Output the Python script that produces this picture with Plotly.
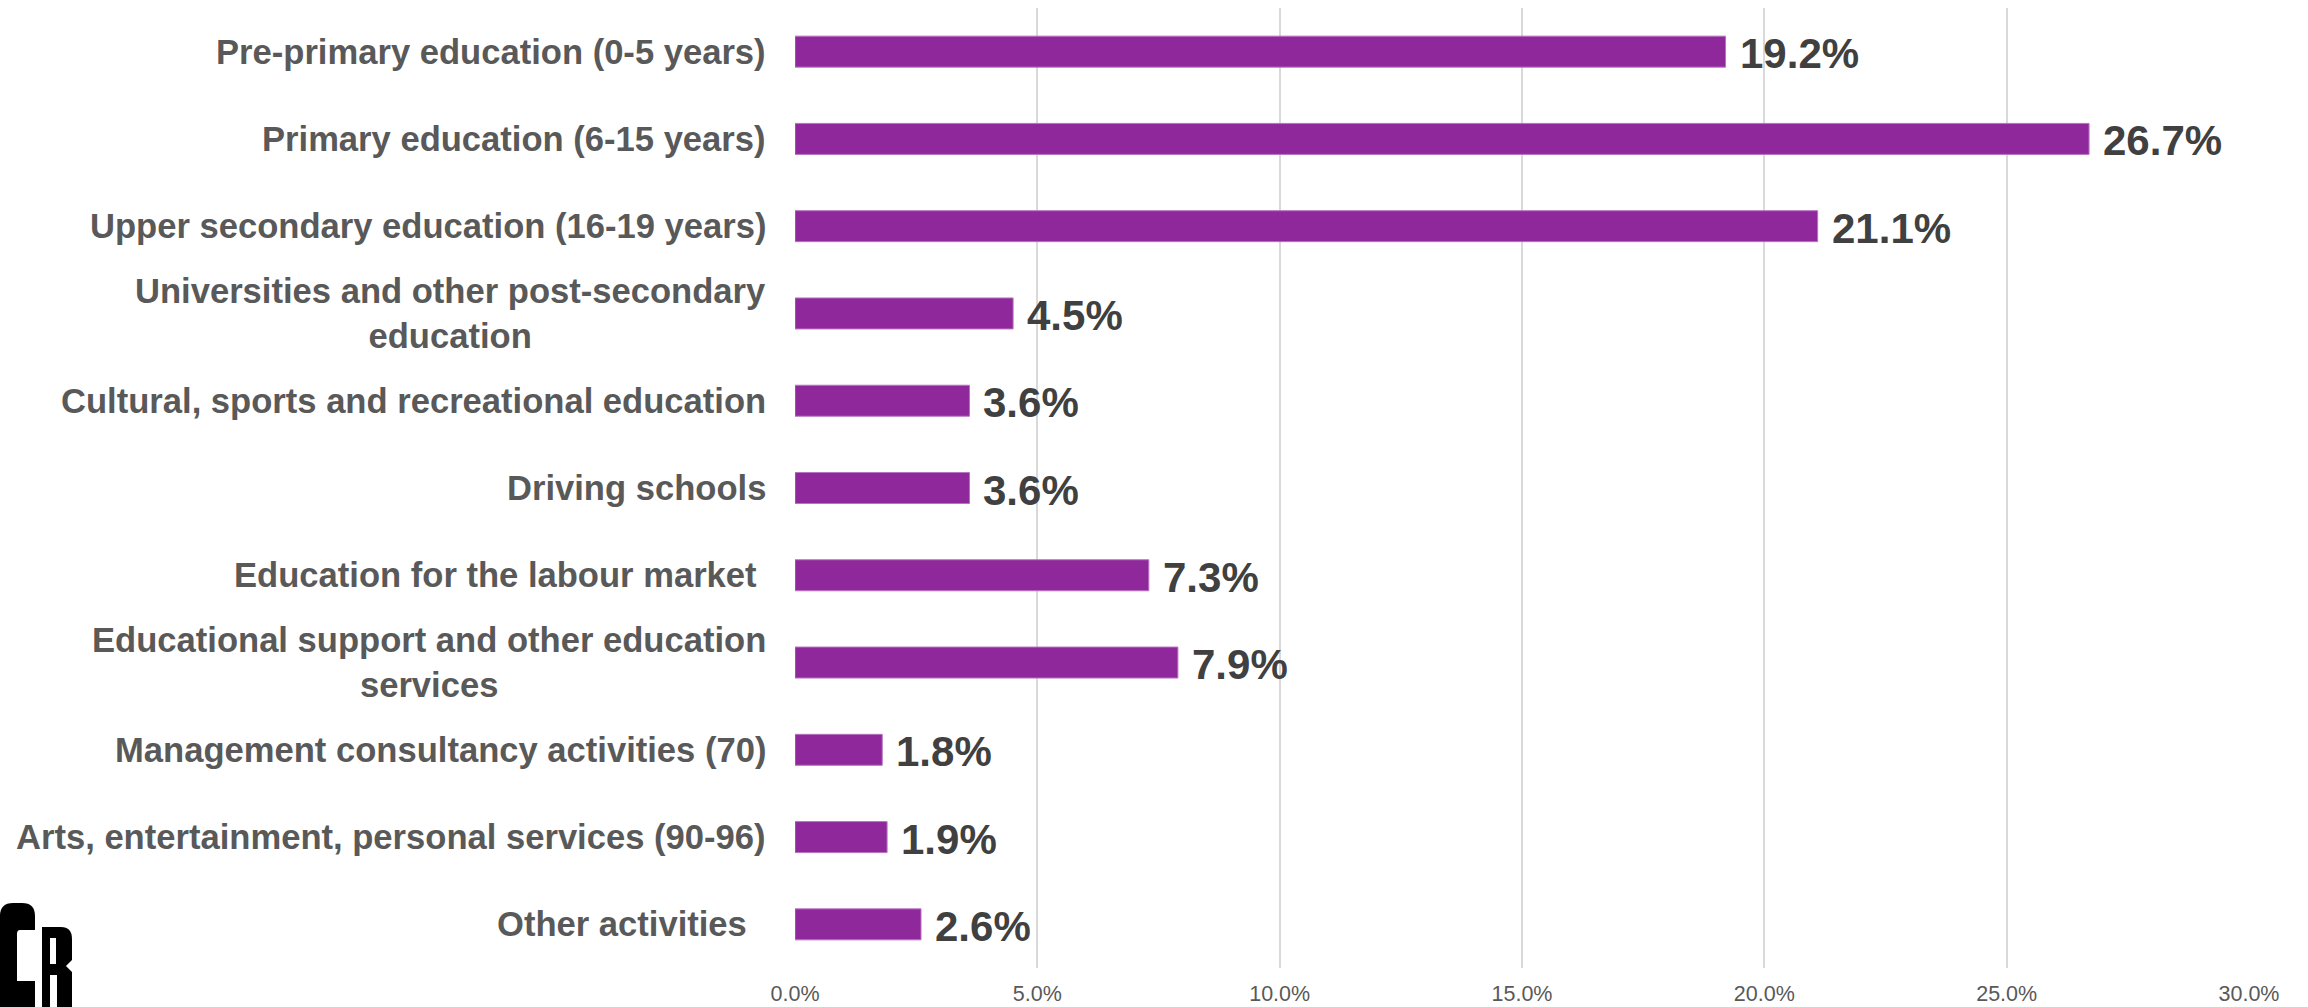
import plotly.graph_objects as go

categories = [
    "Pre-primary education (0-5 years)",
    "Primary education (6-15 years)",
    "Upper secondary education (16-19 years)",
    "Universities and other post-secondary<br>education",
    "Cultural, sports and recreational education",
    "Driving schools",
    "Education for the labour market\u00a0",
    "Educational support and other education<br>services",
    "Management consultancy activities (70)",
    "Arts, entertainment, personal services (90-96)",
    "Other activities\u00a0\u00a0",
]
values = [19.2, 26.7, 21.1, 4.5, 3.6, 3.6, 7.3, 7.9, 1.8, 1.9, 2.6]
x_ticks = [0, 5, 10, 15, 20, 25, 30]
x_tick_labels = ["0.0%", "5.0%", "10.0%", "15.0%", "20.0%", "25.0%", "30.0%"]

W, H = 2308, 1007
L, R, T, B = 795, 2249, 8, 968
FONT = "Liberation Sans, Arial, sans-serif"

ids = list(range(len(categories)))

fig = go.Figure()
fig.add_trace(go.Bar(
    y=ids, x=values, orientation="h",
    width=0.355,
    marker=dict(color="#8F289B", line=dict(color="#B872C2", width=1)),
    hoverinfo="skip",
))

annotations = []
for i, (c, v) in enumerate(zip(categories, values)):
    annotations.append(dict(
        xref="x", yref="y", x=v, y=i, text=f"{v:.1f}%",
        xanchor="left", yanchor="middle", xshift=12, yshift=-2, showarrow=False,
        font=dict(family=FONT, size=42, color="#404040", weight="bold"),
    ))
    annotations.append(dict(
        xref="paper", yref="y", x=(768 - L) / (R - L), y=i, text=c,
        xanchor="right", yanchor="middle", align="center", showarrow=False,
        font=dict(family=FONT, size=34.6, color="#595959", weight="bold"),
    ))


def px(x, y):
    return f"{(x - L) / (R - L):.5f},{(B - y) / (B - T):.5f}"


# "CR" logo, drawn as shapes at the lower-left corner
c_path = ("M " + px(0, 1010) + " L " + px(0, 916) + " Q " + px(0, 903) + " " + px(13, 903)
          + " L " + px(22, 903) + " Q " + px(35, 903) + " " + px(35, 916)
          + " L " + px(35, 930) + " L " + px(20, 930) + " Q " + px(17, 930) + " " + px(17, 934)
          + " L " + px(17, 981)
          + " L " + px(35, 981) + " L " + px(35, 1010) + " Z")
r_path = ("M " + px(42, 1010) + " L " + px(42, 927) + " L " + px(61, 927)
          + " Q " + px(72, 927) + " " + px(72, 939) + " L " + px(72, 960)
          + " L " + px(66, 966) + " L " + px(72, 972)
          + " L " + px(72, 1010) + " L " + px(57, 1010) + " L " + px(57, 975)
          + " L " + px(50, 975) + " L " + px(50, 1010) + " Z"
          + " M " + px(50, 938) + " L " + px(56, 938) + " L " + px(56, 964)
          + " L " + px(50, 964) + " Z")
shapes = [
    dict(type="path", xref="paper", yref="paper", path=c_path,
         fillcolor="black", line=dict(width=0), layer="above"),
    dict(type="path", xref="paper", yref="paper", path=r_path,
         fillcolor="black", line=dict(width=0), layer="above", fillrule="evenodd"),
]

fig.update_layout(
    width=W, height=H,
    margin=dict(l=L, r=W - R, t=T, b=H - B, pad=0, autoexpand=False),
    paper_bgcolor="white", plot_bgcolor="white",
    showlegend=False,
    annotations=annotations,
    shapes=shapes,
    xaxis=dict(
        range=[0, 30], tickvals=x_ticks, ticktext=x_tick_labels,
        showgrid=True, gridcolor="#D9D9D9", gridwidth=2,
        zeroline=False, showline=False, ticks="",
        tickfont=dict(family=FONT, size=21.5, color="#595959"),
        ticklabelstandoff=10,
        automargin=False,
        fixedrange=True,
    ),
    yaxis=dict(
        range=[len(categories) - 0.5, -0.5],
        showticklabels=False, showgrid=False, zeroline=False, ticks="",
        automargin=False,
        fixedrange=True,
    ),
)

fig.write_html(
    "out.html",
    config={"displayModeBar": False},
    post_script="document.body.style.margin='0';document.body.style.overflow='hidden';",
)
